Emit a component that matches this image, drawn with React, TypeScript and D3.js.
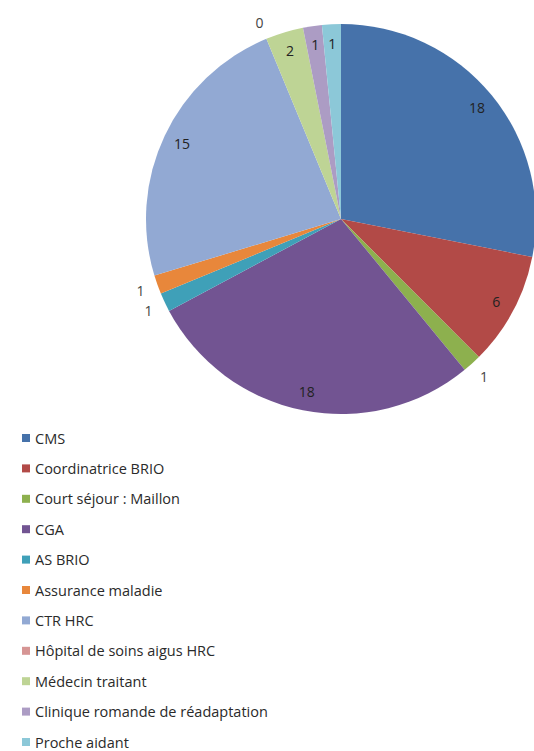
import React from "react";
import * as d3 from "d3";

const categories = [
  "CMS",
  "Coordinatrice BRIO",
  "Court séjour : Maillon",
  "CGA",
  "AS BRIO",
  "Assurance maladie",
  "CTR HRC",
  "Hôpital de soins aigus HRC",
  "Médecin traitant",
  "Clinique romande de réadaptation",
  "Proche aidant",
];
const values = [18, 6, 1, 18, 1, 1, 15, 0, 2, 1, 1];
const colors = [
  "#4672AA",
  "#B24A47",
  "#8DB04E",
  "#725492",
  "#3FA0B8",
  "#E8873B",
  "#92A9D3",
  "#D69594",
  "#BED495",
  "#AC9CC4",
  "#8CC8D8",
];
const outsideLabels = new Set([2, 4, 5, 7]);

export default function App() {
  const W = 534;
  const H = 751;
  const cx = 341;
  const cy = 219;
  const R = 195;

  const pie = d3
    .pie<number>()
    .sort(null)
    .value((d) => d)
    .startAngle(0)
    .endAngle(2 * Math.PI);
  const arcs = pie(values);
  const arc = d3.arc<d3.PieArcDatum<number>>().innerRadius(0).outerRadius(R);
  const inLabel = d3.arc<d3.PieArcDatum<number>>().innerRadius(176).outerRadius(176);
  const outLabel = d3.arc<d3.PieArcDatum<number>>().innerRadius(213).outerRadius(213);

  const legendY = d3
    .scaleLinear()
    .domain([0, categories.length - 1])
    .range([438, 742]);

  const font = "'Open Sans', 'Liberation Sans', sans-serif";

  return (
    <svg
      width={W}
      height={H}
      style={{ position: "absolute", left: 0, top: 0, background: "#fff" }}
    >
      <g transform={`translate(${cx},${cy})`}>
        {arcs.map((a, i) => (
          <path key={i} d={arc(a) || ""} fill={colors[i]} />
        ))}
        {arcs.map((a, i) => {
          const [x, y] = (outsideLabels.has(i) ? outLabel : inLabel).centroid(a);
          return (
            <text
              key={"l" + i}
              x={x}
              y={y}
              textAnchor="middle"
              dominantBaseline="central"
              fontFamily={font}
              fontSize={14}
              fill={outsideLabels.has(i) ? "#444" : "#222"}
            >
              {values[i]}
            </text>
          );
        })}
      </g>
      <g>
        {categories.map((c, i) => (
          <g key={c} transform={`translate(0,${legendY(i)})`}>
            <rect x={22} y={-4} width={8} height={8} fill={colors[i]} />
            <text
              x={35}
              y={0}
              dominantBaseline="central"
              fontFamily={font}
              fontSize={14.5}
              fill="#2a2a2a"
            >
              {c}
            </text>
          </g>
        ))}
      </g>
    </svg>
  );
}
